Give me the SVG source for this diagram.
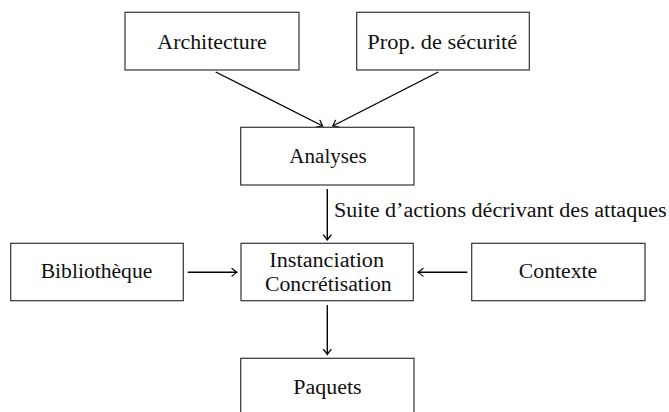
<svg xmlns="http://www.w3.org/2000/svg" width="669" height="412" viewBox="0 0 669 412">
<style>
.box{fill:#fff;stroke:#333;stroke-width:1.2}
.t{font-family:"Liberation Serif","Times New Roman",serif;font-size:20px;fill:#111;text-anchor:middle}
.lbl{font-family:"Liberation Serif","Times New Roman",serif;font-size:20px;fill:#111}
.c{stroke:#000;stroke-width:1.4;fill:none;marker-end:url(#ah)}
</style>
<defs>
<marker id="ah" markerUnits="userSpaceOnUse" viewBox="-6 -5 7 10" refX="0" refY="0" markerWidth="7" markerHeight="10" orient="auto">
<path d="M -5 -3.8 Q -1.5 -0.8 0 0 Q -1.5 0.8 -5 3.8" fill="none" stroke="#000" stroke-width="1.2" stroke-linecap="round"/>
</marker>
</defs>
<rect width="669" height="412" fill="#fff"/>
<g id="connectors">
<line class="c" x1="215.7" y1="72" x2="322.7" y2="126"/>
<line class="c" x1="438.3" y1="72" x2="332.7" y2="126"/>
<line class="c" x1="327.3" y1="189" x2="327.3" y2="240"/>
<line class="c" x1="187.7" y1="272.3" x2="237" y2="272.3"/>
<line class="c" x1="467.3" y1="272.3" x2="418" y2="272.3"/>
<line class="c" x1="327.3" y1="305" x2="327.3" y2="354.5"/>
<text class="lbl" x="334" y="217.3" textLength="332.7" lengthAdjust="spacingAndGlyphs">Suite d’actions décrivant des attaques</text>
</g>
<g id="architecture">
<rect class="box" x="125" y="12.3" width="174" height="57.7"/>
<text class="t" x="212" y="48.5" textLength="109.3" lengthAdjust="spacingAndGlyphs">Architecture</text>
</g>
<g id="prop-securite">
<rect class="box" x="356.7" y="12.3" width="172.6" height="57.7"/>
<text class="t" x="442.3" y="48.5" textLength="150" lengthAdjust="spacingAndGlyphs">Prop. de sécurité</text>
</g>
<g id="analyses">
<rect class="box" x="240.7" y="127.3" width="173.3" height="57.7"/>
<text class="t" x="328" y="163" textLength="77.3" lengthAdjust="spacingAndGlyphs">Analyses</text>
</g>
<g id="bibliotheque">
<rect class="box" x="10.7" y="243.3" width="172.6" height="57.4"/>
<text class="t" x="96.5" y="278" textLength="111.7" lengthAdjust="spacingAndGlyphs">Bibliothèque</text>
</g>
<g id="instanciation">
<rect class="box" x="241" y="243.3" width="172.3" height="57.4"/>
<text class="t" x="326.7" y="266.7" textLength="114.7" lengthAdjust="spacingAndGlyphs">Instanciation</text>
<text class="t" x="328.3" y="291" textLength="126.7" lengthAdjust="spacingAndGlyphs">Concrétisation</text>
</g>
<g id="contexte">
<rect class="box" x="471.7" y="243.3" width="173.3" height="57.4"/>
<text class="t" x="558" y="278" textLength="78.3" lengthAdjust="spacingAndGlyphs">Contexte</text>
</g>
<g id="paquets">
<rect class="box" x="240.7" y="358.3" width="173.3" height="58"/>
<text class="t" x="327.5" y="393.5" textLength="68.3" lengthAdjust="spacingAndGlyphs">Paquets</text>
</g>
</svg>
